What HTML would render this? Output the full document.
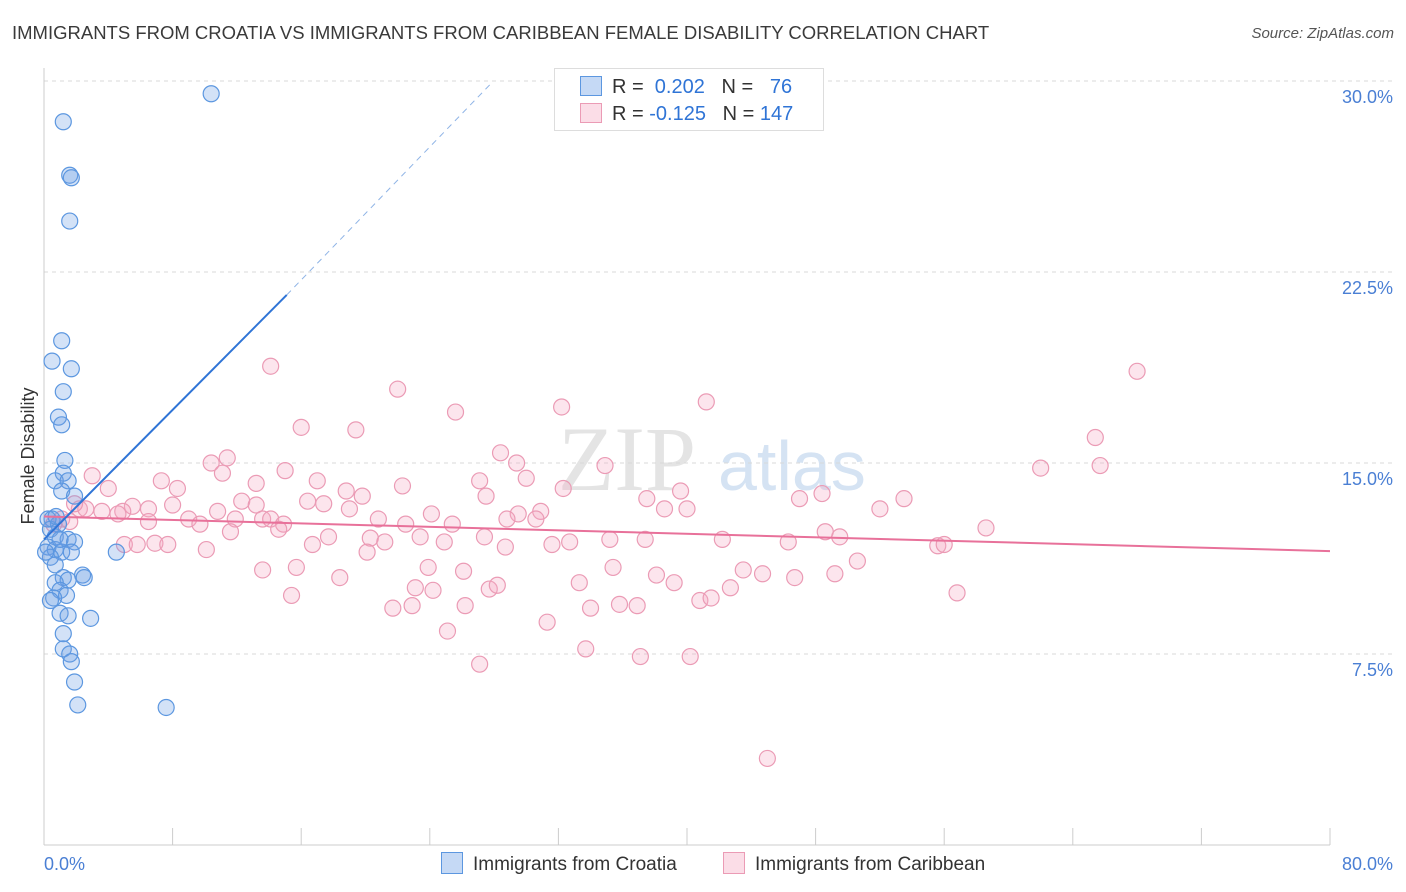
<!DOCTYPE html>
<html><head><meta charset="utf-8">
<style>
body{margin:0;background:#fff;font-family:"Liberation Sans",sans-serif;}
#wrap{position:relative;width:1406px;height:892px;overflow:hidden;}
.t{position:absolute;white-space:nowrap;}
</style></head>
<body>
<div id="wrap">
<div class="t" style="left:12px;top:22px;font-size:18.5px;color:#3a3a3a;">IMMIGRANTS FROM CROATIA VS IMMIGRANTS FROM CARIBBEAN FEMALE DISABILITY CORRELATION CHART</div>
<div class="t" style="right:12px;top:25px;font-size:15px;color:#555;font-style:italic;">Source: ZipAtlas.com</div>
<svg id="svg" width="1406" height="892" style="position:absolute;left:0;top:0"></svg>
</div>
<script>
const blueX=[10.4,1.2,1.6,1.7,1.6,1.1,0.5,1.7,1.2,0.9,1.1,1.3,1.2,0.7,1.5,1.1,1.9,0.5,0.9,0.4,0.7,1.5,1.9,0.25,0.7,1.1,1.7,0.4,4.5,0.7,2.4,2.5,1.2,1.5,0.7,1.0,1.4,0.6,1.0,1.5,1.2,1.2,1.6,1.7,1.9,2.1,7.6,2.9,0.4,0.25,0.75,1.0,0.1];
const blueY=[29.5,28.4,26.3,26.2,24.5,19.8,19.0,18.7,17.8,16.8,16.5,15.1,14.6,14.3,14.3,13.9,13.7,12.8,12.6,12.4,12.1,12.0,11.9,11.7,11.6,11.5,11.5,11.3,11.5,11.0,10.6,10.5,10.5,10.4,10.3,10.0,9.8,9.7,9.1,9.0,8.3,7.7,7.5,7.2,6.4,5.5,5.4,8.9,9.6,12.8,12.9,12.0,11.5];
const pinkX=[14.1,68.0,22.0,41.2,25.6,32.2,16.0,19.4,65.4,28.4,11.4,10.4,29.4,34.9,62.0,65.7,15.0,11.1,3.0,7.3,17.0,27.1,30.0,13.2,8.3,4.0,22.3,18.8,32.3,39.6,37.5,19.8,27.5,48.4,47.0,53.5,12.3,16.4,17.4,13.2,8.0,10.8,5.5,6.5,4.9,3.6,2.2,2.6,4.6,19.0,30.9,38.6,40.0,52.0,29.5,24.1,30.6,6.5,9.0,11.9,13.6,14.1,14.9,20.8,22.5,25.4,28.8,1.1,1.6,0.6,9.7,11.6,14.6,17.7,23.4,27.4,24.9,20.3,21.2,31.6,32.7,35.2,37.4,42.2,46.3,48.6,49.5,55.6,56.0,58.6,5.0,5.8,6.9,7.7,10.1,16.7,20.1,28.7,13.6,15.7,18.4,23.9,26.1,33.3,35.4,38.1,39.2,43.5,42.7,44.7,46.7,49.2,50.6,15.4,23.1,24.2,27.7,28.2,21.7,22.9,26.2,34.0,35.8,36.9,40.8,41.5,56.8,31.3,25.1,33.7,37.1,40.2,27.1,45.0,1.9];
const pinkY=[18.8,18.6,17.9,17.4,17.0,17.2,16.4,16.3,16.0,15.4,15.2,15.0,15.0,14.9,14.8,14.9,14.7,14.6,14.5,14.3,14.3,14.3,14.4,14.2,14.0,14.0,14.1,13.9,14.0,13.9,13.6,13.7,13.7,13.8,13.6,13.6,13.5,13.5,13.4,13.35,13.35,13.1,13.3,13.2,13.1,13.1,13.2,13.2,13.0,13.2,13.1,13.2,13.2,13.2,13.0,13.0,12.8,12.7,12.8,12.8,12.8,12.8,12.6,12.8,12.6,12.6,12.8,12.8,12.7,12.6,12.6,12.3,12.4,12.1,12.1,12.1,11.9,12.05,11.9,11.8,11.9,12.0,12.0,12.0,11.9,12.3,12.1,11.75,11.8,12.45,11.8,11.8,11.85,11.8,11.6,11.8,11.5,11.7,10.8,10.9,10.5,10.9,10.75,10.3,10.9,10.6,10.3,10.8,10.1,10.65,10.5,10.65,11.15,9.8,10.1,10.0,10.05,10.2,9.3,9.4,9.4,9.3,9.45,9.4,9.6,9.7,9.9,8.75,8.4,7.7,7.4,7.4,7.1,3.4,13.4];
const yTicks=[7.5,15.0,22.5,30.0];
const yTickLabels=["7.5%","15.0%","22.5%","30.0%"];
const blueTrend=[[0,12.0],[15.1,21.6],[27.9,29.96]];
const pinkTrend=[[0,12.9],[80,11.54]];

const svg=document.getElementById('svg');
const NS='http://www.w3.org/2000/svg';
const X=v=>44+v*(1286/80);
const Y=v=>654-(v-7.5)*(191/7.5);
function mk(tag,attrs){const e=document.createElementNS(NS,tag);for(const k in attrs)e.setAttribute(k,attrs[k]);svg.appendChild(e);return e;}

// watermark
let wm=mk('text',{x:558,y:490,'font-size':92,fill:'#e4e4e4','font-family':'Liberation Serif, serif'});wm.textContent='ZIP';


let wm2=mk('text',{x:718,y:490,'font-size':70,fill:'#d5e3f3','font-family':'Liberation Sans, sans-serif'});wm2.textContent='atlas';



// gridlines + y labels
yTicks.forEach((v,i)=>{
 const g=mk('line',{x1:44,x2:1393,y1:Y(v),y2:Y(v),stroke:'#d8d8d8','stroke-dasharray':'4,4'});
 
 
 const t=mk('text',{x:1393,y:Y(v)+22,'text-anchor':'end','font-size':18,fill:'#4a7fd4'});
 t.textContent=yTickLabels[i];
 
 
});
// axes
let ax=mk('line',{x1:44,x2:44,y1:68,y2:845,stroke:'#ccc'});


let bx=mk('line',{x1:44,x2:1330,y1:845,y2:845,stroke:'#ccc'});


for(let v=0;v<=80;v+=8){
 const tk=mk('line',{x1:X(v),x2:X(v),y1:828,y2:845,stroke:'#ccc'});
 
 
}
let xl=mk('text',{x:44,y:870,'font-size':18,fill:'#4a7fd4'});xl.textContent='0.0%';


let xr=mk('text',{x:1393,y:870,'font-size':18,fill:'#4a7fd4','text-anchor':'end'});xr.textContent='80.0%';


let yt=mk('text',{x:34,y:456,'font-size':18,fill:'#333','text-anchor':'middle',transform:'rotate(-90 34 456)'});yt.textContent='Female Disability';



// points
pinkX.forEach((x,i)=>{
 const c=mk('circle',{cx:X(x),cy:Y(pinkY[i]),r:8,fill:'rgba(244,170,196,0.3)',stroke:'#eb9bb5','stroke-width':1.2});
 
 
});
blueX.forEach((x,i)=>{
 const c=mk('circle',{cx:X(x),cy:Y(blueY[i]),r:8,fill:'rgba(110,160,230,0.3)',stroke:'#5c97e0','stroke-width':1.2});
 
 
});
// trends
let pl=mk('line',{x1:X(pinkTrend[0][0]),y1:Y(pinkTrend[0][1]),x2:X(pinkTrend[1][0]),y2:Y(pinkTrend[1][1]),stroke:'#e8719a','stroke-width':2});


let bl=mk('line',{x1:X(blueTrend[0][0]),y1:Y(blueTrend[0][1]),x2:X(blueTrend[1][0]),y2:Y(blueTrend[1][1]),stroke:'#2f74d6','stroke-width':2});


let bd=mk('line',{x1:X(blueTrend[1][0]),y1:Y(blueTrend[1][1]),x2:X(blueTrend[2][0]),y2:Y(blueTrend[2][1]),stroke:'#8fb4e6','stroke-width':1,'stroke-dasharray':'6,5'});


</script>
<div class="t" style="left:554px;top:68px;width:268px;height:61px;border:1px solid #ddd;background:#fff;"></div>
<div class="t" style="left:580px;top:74px;font-size:20px;color:#333;line-height:26px;">
<span style="display:inline-block;width:20px;height:18px;background:rgba(110,160,230,0.4);border:1px solid #5c97e0;vertical-align:-3px;margin-right:10px"></span>R = &nbsp;<span style="color:#2f74d6">0.202</span> &nbsp;&nbsp;N = &nbsp;&nbsp;<span style="color:#2f74d6">76</span></div>
<div class="t" style="left:580px;top:101px;font-size:20px;color:#333;line-height:26px;">
<span style="display:inline-block;width:20px;height:18px;background:rgba(244,170,196,0.4);border:1px solid #eb9bb5;vertical-align:-3px;margin-right:10px"></span>R = <span style="color:#2f74d6">-0.125</span> &nbsp;&nbsp;N = <span style="color:#2f74d6">147</span></div>
<div class="t" style="left:441px;top:852px;font-size:19px;color:#333;">
<span style="display:inline-block;width:20px;height:20px;background:rgba(110,160,230,0.4);border:1px solid #5c97e0;vertical-align:-4px;margin-right:10px"></span>Immigrants from Croatia</div>
<div class="t" style="left:723px;top:852px;font-size:19px;color:#333;">
<span style="display:inline-block;width:20px;height:20px;background:rgba(244,170,196,0.4);border:1px solid #eb9bb5;vertical-align:-4px;margin-right:10px"></span>Immigrants from Caribbean</div>
</body></html>
